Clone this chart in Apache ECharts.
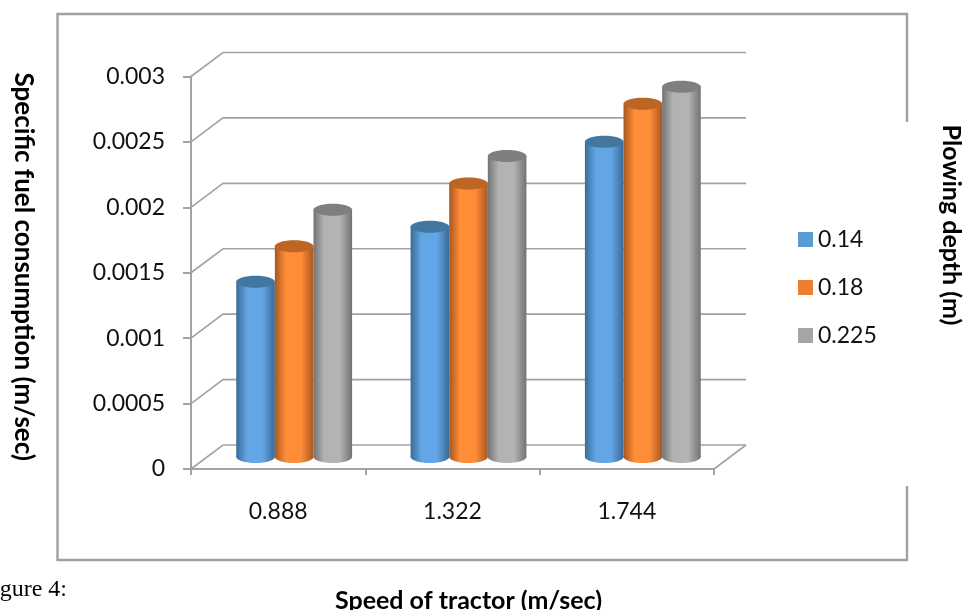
<!DOCTYPE html>
<html><head><meta charset="utf-8">
<style>html,body{margin:0;padding:0;background:#fff}#c{width:964px;height:610px}</style>
<script src="https://cdn.jsdelivr.net/npm/echarts@6/dist/echarts.min.js"></script>
</head><body><div id="c"></div>
<script>
var categories = ['0.888', '1.322', '1.744'];
var depth014 = [0.00134, 0.00176, 0.00241];
var depth018 = [0.00161, 0.00209, 0.00270];
var depth0225 = [0.00189, 0.00230, 0.00283];
var seriesNames = ['0.14', '0.18', '0.225'];
var yTicks = [0, 0.0005, 0.001, 0.0015, 0.002, 0.0025, 0.003];

var DX = 32, DY = 24, AXIS = '#a3a3a3';
var palette = [
  {legend:'#5b9bd5', edge:'#3a6a96', mid:'#62a6e6', top:'#44779f'},
  {legend:'#ed7d31', edge:'#a8571f', mid:'#ff8c37', top:'#bd6524'},
  {legend:'#a5a5a5', edge:'#737373', mid:'#b3b3b3', top:'#7f7f7f'}
];
var FONT = 'Lato';

function cylinder(idx) {
  return function (params, api) {
    var base = api.coord([api.value(0), 0]);
    var top = api.coord([api.value(0), api.value(1)]);
    var band = api.size([1, 0])[0];
    var w = band * 0.2215;
    var cx = base[0] + DX / 2 + (idx - 1) * w;
    var yb = base[1] - DY / 2, yt = top[1] - DY / 2;
    var rx = w / 2, ry = 6;
    var c = palette[idx];
    var grad = new echarts.graphic.LinearGradient(0, 0, 1, 0, [
      {offset: 0, color: c.edge}, {offset: 0.28, color: c.mid},
      {offset: 0.68, color: c.mid}, {offset: 1, color: c.edge}
    ]);
    return {type: 'group', children: [
      {type: 'ellipse', shape: {cx: cx, cy: yb, rx: rx, ry: ry}, style: {fill: grad}},
      {type: 'rect', shape: {x: cx - rx, y: yt, width: w, height: yb - yt}, style: {fill: grad}},
      {type: 'ellipse', shape: {cx: cx, cy: yt, rx: rx, ry: ry}, style: {fill: c.top}}
    ]};
  };
}

function wallLine(params, api) {
  var p = api.coord([0, api.value(1)]);
  var cs = params.coordSys;
  var left = cs.x, right = cs.x + cs.width;
  var style = {stroke: AXIS, lineWidth: 1.6, fill: null};
  var kids = [{type: 'polyline', shape: {points: [[left, p[1]], [left + DX, p[1] - DY], [right + DX, p[1] - DY]]}, style: style}];
  if (api.value(1) === 0) {
    kids.push({type: 'line', shape: {x1: right, y1: p[1], x2: right + DX, y2: p[1] - DY}, style: style});
  }
  return {type: 'group', children: kids};
}

function bars(i, values) {
  return {
    type: 'custom', name: seriesNames[i], renderItem: cylinder(i), z: 5 + i,
    itemStyle: {color: palette[i].legend}, encode: {x: 0, y: 1},
    data: values.map(function (v, k) { return [k, v]; })
  };
}

var chart = echarts.init(document.getElementById('c'), null, {renderer: 'canvas'});
chart.setOption({
  animation: false,
  backgroundColor: '#fff',
  grid: {left: 191, right: 250, top: 76.5, bottom: 141, containLabel: false, outerBoundsMode: 'none'},
  legend: {
    orient: 'vertical', left: 793, top: 223, itemWidth: 15, itemHeight: 15, itemGap: 25,
    icon: 'rect', data: seriesNames,
    textStyle: {fontFamily: FONT, fontSize: 23, color: '#111'}
  },
  xAxis: {
    type: 'category', data: categories, boundaryGap: true,
    name: 'Speed of tractor (m/sec)', nameLocation: 'middle', nameGap: 119,
    nameTextStyle: {fontFamily: FONT, fontWeight: 'bold', fontSize: 25, color: '#000', padding: [0, 0, 0, 32]},
    axisLine: {lineStyle: {color: AXIS, width: 2}},
    axisTick: {show: true, length: 6, lineStyle: {color: AXIS, width: 2}},
    axisLabel: {fontFamily: FONT, fontSize: 23, color: '#111', margin: 31},
    splitLine: {show: false}
  },
  yAxis: {
    type: 'value', min: 0, max: 0.003, interval: 0.0005,
    name: 'Specific fuel consumption (m/sec)', nameLocation: 'middle', nameGap: 155, nameRotate: -90,
    nameTextStyle: {fontFamily: FONT, fontWeight: 'bold', fontSize: 26, color: '#000', padding: [0, 12, 0, 0]},
    axisLine: {show: true, lineStyle: {color: AXIS, width: 2}},
    axisTick: {show: true, length: 8, lineStyle: {color: AXIS, width: 2}},
    axisLabel: {fontFamily: FONT, fontSize: 23, color: '#111', margin: 26,
      formatter: function (v) { return String(v); }},
    splitLine: {show: false}
  },
  series: [
    {type: 'custom', name: 'walls', renderItem: wallLine, z: 1, silent: true, encode: {x: 0, y: 1},
     data: yTicks.map(function (v) { return [0, v]; })},
    bars(0, depth014), bars(1, depth018), bars(2, depth0225)
  ],
  graphic: [
    {type: 'polyline', silent: true, shape: {points: [[907, 122], [907, 14], [57.5, 14], [57.5, 560], [907, 560], [907, 486]]},
     style: {stroke: '#a0a0a0', lineWidth: 2.4, fill: null}},
    {type: 'text', x: 951, y: 225, rotation: -Math.PI / 2,
     style: {text: 'Plowing depth (m)', fontFamily: FONT, fontWeight: 'bold', fontSize: 25, fill: '#000', align: 'center', verticalAlign: 'middle'}},
    {type: 'text', x: 67, y: 590,
     style: {text: 'Figure 4:', fontFamily: 'Liberation Serif', fontSize: 24, fill: '#000', align: 'right', verticalAlign: 'middle'}}
  ]
});
</script></body></html>
